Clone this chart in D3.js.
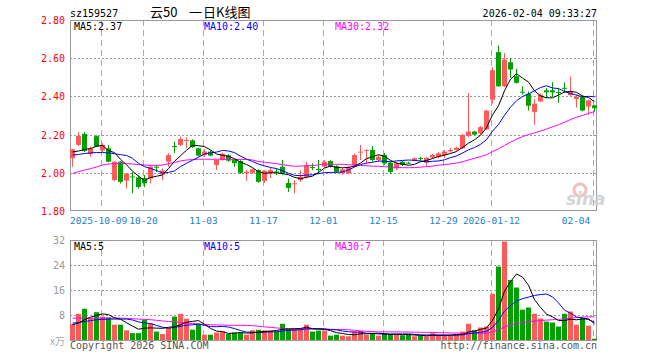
<!DOCTYPE html>
<html><head><meta charset="utf-8">
<script src="https://cdn.jsdelivr.net/npm/d3@7/dist/d3.min.js"></script>
<style>body{margin:0;background:#fff}svg{display:block}</style>
</head><body><svg id="c" width="660" height="360"></svg>
<script>
const dates = ["2025-09-24","2025-09-25","2025-09-26","2025-09-29","2025-09-30","2025-10-09","2025-10-10","2025-10-13","2025-10-14","2025-10-15","2025-10-16","2025-10-17","2025-10-20","2025-10-21","2025-10-22","2025-10-23","2025-10-24","2025-10-27","2025-10-28","2025-10-29","2025-10-30","2025-10-31","2025-11-03","2025-11-04","2025-11-05","2025-11-06","2025-11-07","2025-11-10","2025-11-11","2025-11-12","2025-11-13","2025-11-14","2025-11-17","2025-11-18","2025-11-19","2025-11-20","2025-11-21","2025-11-24","2025-11-25","2025-11-26","2025-11-27","2025-11-28","2025-12-01","2025-12-02","2025-12-03","2025-12-04","2025-12-05","2025-12-08","2025-12-09","2025-12-10","2025-12-11","2025-12-12","2025-12-15","2025-12-16","2025-12-17","2025-12-18","2025-12-19","2025-12-22","2025-12-23","2025-12-24","2025-12-25","2025-12-26","2025-12-29","2025-12-30","2025-12-31","2026-01-05","2026-01-06","2026-01-07","2026-01-08","2026-01-09","2026-01-12","2026-01-13","2026-01-14","2026-01-15","2026-01-16","2026-01-19","2026-01-20","2026-01-21","2026-01-22","2026-01-23","2026-01-26","2026-01-27","2026-01-28","2026-01-29","2026-01-30","2026-02-02","2026-02-03","2026-02-04"];
const open  = [2.076,2.146,2.204,2.098,2.192,2.117,2.128,1.962,2.058,1.959,1.981,1.976,1.972,1.971,2.032,1.991,2.058,2.140,2.146,2.170,2.170,2.128,2.093,2.111,2.041,2.067,2.092,2.068,2.062,1.997,2.000,2.014,1.958,1.997,2.007,2.032,1.947,1.942,1.962,1.979,2.030,2.020,2.032,2.062,2.035,1.997,1.997,2.040,2.108,2.117,2.120,2.067,2.093,2.053,2.023,2.058,2.053,2.062,2.077,2.053,2.080,2.084,2.093,2.113,2.120,2.128,2.193,2.216,2.207,2.228,2.383,2.632,2.453,2.579,2.506,2.424,2.414,2.319,2.374,2.432,2.432,2.423,2.445,2.406,2.386,2.397,2.347,2.353];
const high  = [2.125,2.213,2.212,2.137,2.196,2.156,2.146,2.060,2.062,1.998,2.004,1.985,1.988,2.041,2.041,2.023,2.102,2.162,2.190,2.185,2.175,2.132,2.125,2.116,2.070,2.105,2.097,2.072,2.066,2.014,2.022,2.018,2.014,2.025,2.023,2.067,1.970,1.962,2.014,2.058,2.050,2.067,2.067,2.066,2.040,2.025,2.035,2.100,2.146,2.123,2.140,2.093,2.103,2.058,2.056,2.062,2.058,2.080,2.084,2.081,2.100,2.110,2.120,2.130,2.137,2.204,2.418,2.220,2.245,2.330,2.553,2.667,2.627,2.602,2.544,2.453,2.426,2.388,2.415,2.444,2.474,2.440,2.474,2.505,2.409,2.405,2.383,2.355];
const low   = [2.032,2.140,2.109,2.084,2.135,2.109,2.055,1.956,1.944,1.918,1.893,1.918,1.925,1.944,2.004,1.962,2.032,2.104,2.140,2.130,2.130,2.085,2.083,2.086,2.014,2.063,2.058,2.032,1.995,1.958,1.995,1.947,1.947,1.972,1.988,1.988,1.900,1.892,1.953,1.970,2.014,1.993,2.024,2.028,2.000,1.990,1.995,2.030,2.067,2.050,2.058,2.058,2.040,1.993,2.014,2.035,2.045,2.060,2.062,2.032,2.075,2.075,2.078,2.105,2.115,2.124,2.185,2.198,2.200,2.225,2.362,2.449,2.449,2.497,2.467,2.409,2.326,2.251,2.370,2.392,2.397,2.367,2.418,2.404,2.341,2.322,2.304,2.320];
const close = [2.123,2.193,2.114,2.128,2.137,2.146,2.058,2.058,1.953,1.996,1.978,1.926,1.945,2.032,2.028,2.012,2.093,2.137,2.177,2.172,2.135,2.090,2.111,2.090,2.067,2.100,2.063,2.050,2.000,2.005,2.018,1.953,2.011,2.014,2.005,1.997,1.921,1.945,1.979,2.040,2.028,2.018,2.058,2.032,2.005,2.018,2.028,2.093,2.111,2.120,2.067,2.084,2.049,2.005,2.049,2.041,2.051,2.076,2.075,2.079,2.093,2.102,2.111,2.120,2.131,2.198,2.216,2.200,2.239,2.325,2.537,2.453,2.593,2.541,2.471,2.420,2.351,2.362,2.409,2.421,2.421,2.421,2.443,2.425,2.397,2.326,2.379,2.338];
const volume = [5.1,8.4,10.0,7.0,8.9,7.5,7.2,4.9,4.9,3.1,2.2,2.2,6.5,5.4,2.7,1.9,3.8,7.5,8.4,6.8,3.3,5.1,1.7,1.7,2.4,2.7,1.9,2.4,2.4,1.7,3.1,3.3,3.1,3.0,2.7,5.2,3.5,3.5,3.5,4.9,2.7,3.0,3.0,1.4,1.7,1.4,1.2,2.7,2.9,1.6,2.2,1.4,2.1,1.8,1.8,1.5,1.6,1.2,1.3,1.2,2.2,1.5,1.5,1.5,1.9,2.7,5.2,3.1,4.0,4.3,14.8,23.5,31.5,19.2,16.8,9.7,10.4,8.4,6.9,5.9,5.6,4.3,8.4,9.1,4.9,7.0,4.6,0.4];
const ma5Lead  = [2.109,2.114,2.122,2.127];
const ma10Lead = [2.093,2.096,2.101,2.104,2.106,2.106,2.104,2.100,2.095];
const ma30Lead = [1.996,2.006,2.014,2.022,2.030,2.041,2.046,2.048,2.049,2.048,2.046,2.043,2.041,2.039,2.039,2.041,2.048,2.054,2.062,2.067,2.069,2.071,2.071,2.071,2.071,2.071,2.071,2.070,2.070];
const vma5Lead  = [4.9,5.4,6.5,7.3];
const vma10Lead = [5.4,5.6,5.9,6.2,6.5,6.6,6.7,6.7,6.7];
const vma30Lead = [7.0,7.0,7.0,7.0,7.0,7.0,7.0,7.0,7.0,6.9,6.8,6.7,6.6,6.5,6.3,6.1,5.9,5.8,5.6,5.4,5.3,5.1,5.0,4.9,4.8,4.8,4.7,4.7,4.7];
const priceTicks = [1.80,2.00,2.20,2.40,2.60,2.80];
const volTicks = [8,16,24,32];
const dateTicks = ["2025-10-09","2025-10-20","2025-11-03","2025-11-17","2025-12-01","2025-12-15","2025-12-29","2026-01-12","2026-02-04"];
const dateTickLabels = ["2025-10-09","10-20","11-03","11-17","12-01","12-15","12-29","2026-01-12","02-04"];
const code = "sz159527", titleParts = ["云50","一","日K线图"], stamp = "2026-02-04 09:33:27";

const RED="#ff5a5a", GREEN="#00a000", MONO="'DejaVu Sans Mono', monospace";
const svg = d3.select("#c");
const n = close.length;
const L=70, R=597;
const x = d3.scaleBand().domain(d3.range(n)).range([69.5,597.5]);
const cx = i => x(i)+3;
const y = d3.scaleLinear().domain([1.8,2.8]).range([211,20]);
const yv = d3.scaleLinear().domain([0,32]).range([340,240]);
const ma = (arr,k,lead)=>arr.map((v,i)=> i<k-1 ? lead[i] : d3.mean(arr.slice(i-k+1,i+1)));
const ma5=ma(close,5,ma5Lead), ma10=ma(close,10,ma10Lead), ma30=ma(close,30,ma30Lead);
const vma5=ma(volume,5,vma5Lead), vma10=ma(volume,10,vma10Lead), vma30=ma(volume,30,vma30Lead);
const crisp = v => Math.round(v)+0.5;

// horizontal grids
svg.append("g").selectAll("line").data(priceTicks.slice(1,-1)).join("line")
  .attr("x1",L).attr("x2",R).attr("y1",d=>crisp(y(d))).attr("y2",d=>crisp(y(d)))
  .attr("stroke","#999").attr("stroke-dasharray","2,2");
svg.append("g").selectAll("line").data(volTicks.slice(0,-1)).join("line")
  .attr("x1",L).attr("x2",R).attr("y1",d=>crisp(yv(d))).attr("y2",d=>crisp(yv(d)))
  .attr("stroke","#999").attr("stroke-dasharray","2,2");
// vertical grids
const tickIdx = dateTicks.map(d=>dates.indexOf(d));
[[20,211],[240,340]].forEach(([a,b])=>{
  svg.append("g").selectAll("line").data(tickIdx).join("line")
    .attr("x1",i=>cx(i)-1).attr("x2",i=>cx(i)-1).attr("y1",a).attr("y2",b)
    .attr("stroke","#aaa").attr("stroke-dasharray","6,4");
});
// frames
svg.append("rect").attr("x",70.5).attr("y",20.5).attr("width",526).attr("height",190).attr("fill","none").attr("stroke","#999");
svg.append("rect").attr("x",70.5).attr("y",240.5).attr("width",526).attr("height",100).attr("fill","none").attr("stroke","#999");

// watermark
const wm = svg.append("g").attr("opacity",0.9);
wm.append("circle").attr("cx",580).attr("cy",190).attr("r",6).attr("fill","none").attr("stroke","#f2b8b8").attr("stroke-width",3);
wm.append("text").attr("x",566).attr("y",205).attr("font-family","'DejaVu Sans', sans-serif").attr("font-style","italic").attr("font-weight","bold").attr("font-size",17).attr("fill","#d0d0d0").text("sina");

// candles
const up = i => close[i] > open[i];
const cg = svg.append("g");
d3.range(n).forEach(i=>{
  const col = up(i)?RED:GREEN;
  cg.append("line").attr("x1",cx(i)).attr("x2",cx(i)).attr("y1",y(high[i])).attr("y2",y(low[i])).attr("stroke",col);
  const t = y(Math.max(open[i],close[i])), b = y(Math.min(open[i],close[i]));
  cg.append("rect").attr("x",cx(i)-2.5).attr("y",t).attr("width",5).attr("height",Math.max(1,b-t)).attr("fill",col);
});
// volume bars
svg.append("g").selectAll("rect").data(volume).join("rect")
  .attr("x",(d,i)=>cx(i)-2.5).attr("y",d=>yv(d)).attr("width",5).attr("height",d=>yv(0)-yv(d))
  .attr("fill",(d,i)=>up(i)?RED:GREEN);

// MA lines
const line = (sy)=>d3.line().x((d,i)=>cx(i)).y(d=>sy(d));
[[ma30,"#ff00ff"],[ma10,"#0000ff"],[ma5,"#000"]].forEach(([a,c])=>
  svg.append("path").attr("d",line(y)(a)).attr("fill","none").attr("stroke",c).attr("stroke-width",1));
[[vma30,"#ff00ff"],[vma10,"#0000ff"],[vma5,"#000"]].forEach(([a,c])=>
  svg.append("path").attr("d",line(yv)(a)).attr("fill","none").attr("stroke",c).attr("stroke-width",1));

// axis labels
svg.append("g").selectAll("text").data(priceTicks).join("text")
  .attr("x",65).attr("y",d=>y(d)+4).attr("text-anchor","end").attr("font-family",MONO).attr("font-size",10)
  .attr("fill","#f00").text(d=>d3.format(".2f")(d));
svg.append("g").selectAll("text").data(volTicks).join("text")
  .attr("x",65).attr("y",d=>yv(d)+4).attr("text-anchor","end").attr("font-family",MONO).attr("font-size",10)
  .attr("fill","#999").text(d=>d);
svg.append("text").attr("x",65).attr("y",345).attr("text-anchor","end").attr("font-family","'Noto Sans CJK SC', sans-serif").attr("font-size",10).attr("fill","#aaa").text("x万");
// date labels: first one starts at the frame edge, last one kept inside the frame
svg.append("g").selectAll("text").data(tickIdx).join("text")
  .attr("x",(i,k)=> k===0 ? L : Math.min(cx(i)-1, 576))
  .attr("text-anchor",(i,k)=> k===0 ? "start" : "middle")
  .attr("y",224).attr("font-family",MONO).attr("font-size",9.5).attr("fill","#1a80d0").text((i,k)=>dateTickLabels[k]);

// legends
const f2=d3.format(".2f"), last=a=>a[a.length-1];
const leg=(xx,yy,c,t)=>svg.append("text").attr("x",xx).attr("y",yy).attr("font-family",MONO).attr("font-size",10).attr("fill",c).text(t);
leg(74,30,"#000","MA5:"+f2(last(ma5)));
leg(204,30,"#0000ff","MA10:"+f2(last(ma10)));
leg(335,30,"#ff00ff","MA30:"+f2(last(ma30)));
leg(74,250,"#000","MA5:"+Math.floor(last(vma5)));
leg(204,250,"#0000ff","MA10:"+Math.floor(last(vma10)));
leg(335,250,"#ff00ff","MA30:"+Math.floor(last(vma30)));

// header / footer
svg.append("text").attr("x",70).attr("y",16.5).attr("font-family",MONO).attr("font-size",10).attr("fill","#000").text(code);
const tt = svg.append("text").attr("y",17).attr("font-family","'Noto Sans CJK SC', sans-serif").attr("font-size",13).attr("fill","#000");
[150,189,203].forEach((xx,k)=>tt.append("tspan").attr("x",xx).text(titleParts[k]));
svg.append("text").attr("x",597).attr("y",16.5).attr("text-anchor","end").attr("font-family",MONO).attr("font-size",10).attr("fill","#000").text(stamp);
svg.append("text").attr("x",70).attr("y",349).attr("font-family",MONO).attr("font-size",10).attr("fill","#555").text("Copyright 2026 SINA.COM");
svg.append("text").attr("x",597).attr("y",349).attr("text-anchor","end").attr("font-family",MONO).attr("font-size",10).attr("fill","#555").text("http://finance.sina.com.cn");
</script></body></html>
